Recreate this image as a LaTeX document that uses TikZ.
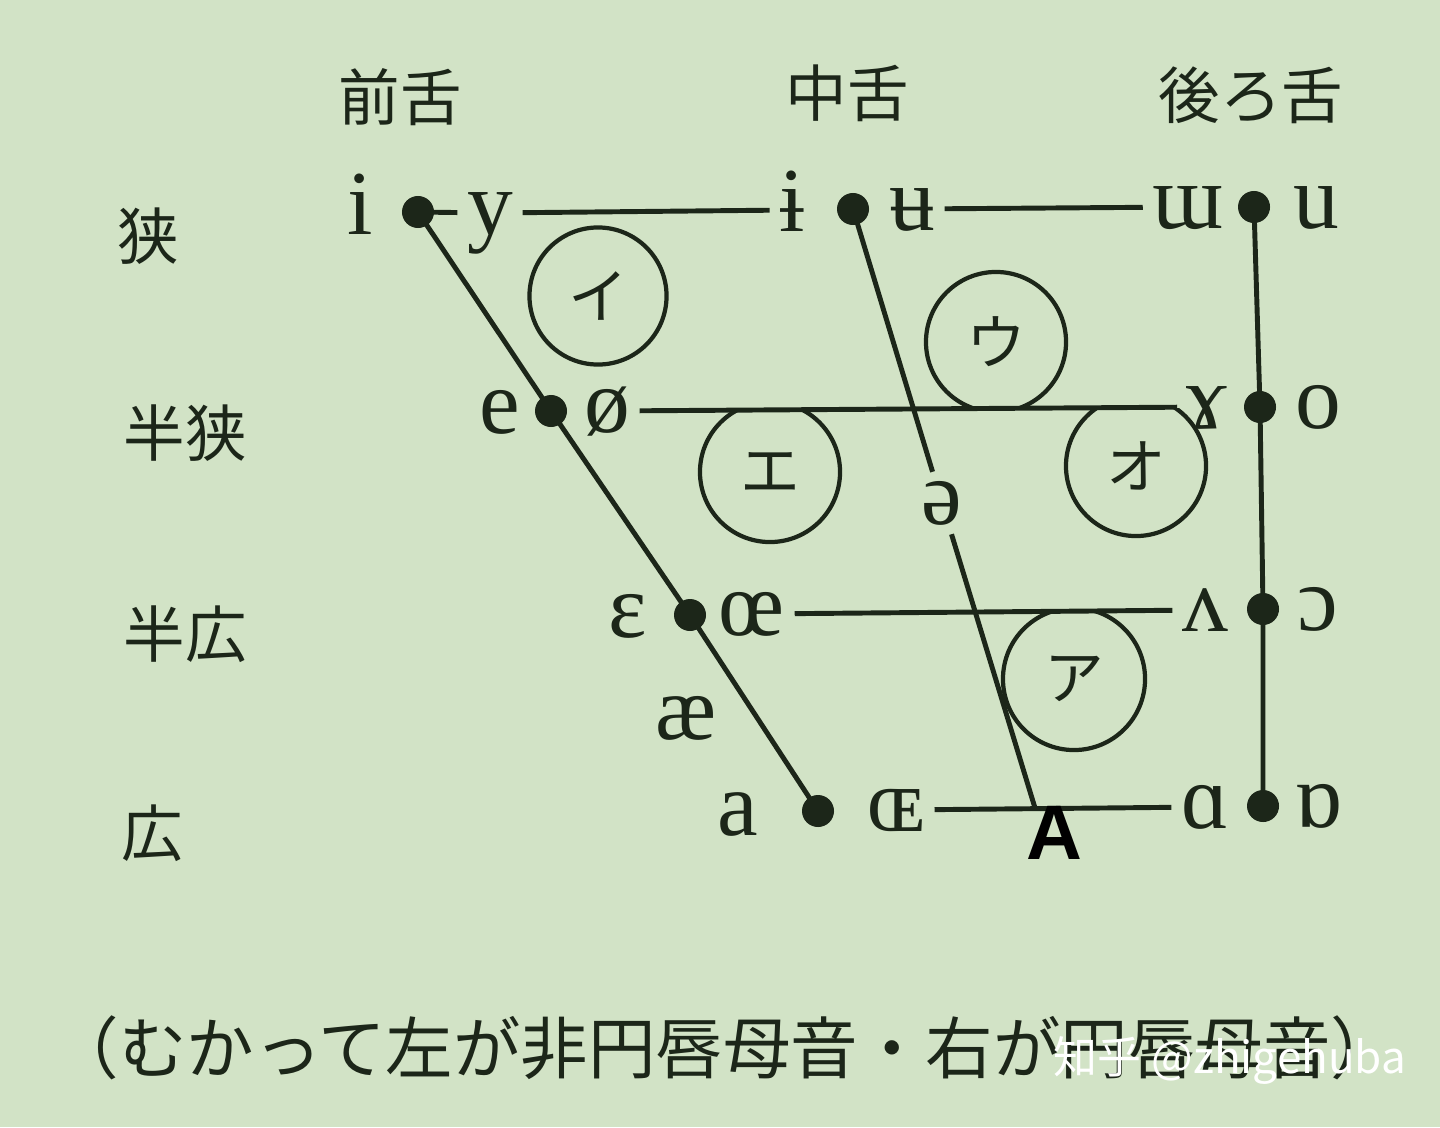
\documentclass[tikz,border=0pt]{standalone}
\usepackage{fontspec}
\setmainfont{Liberation Serif}
\newfontfamily\jpfont{Noto Sans CJK JP}
\newfontfamily\zhfont{Noto Sans CJK SC}
\newfontfamily\sansfont{Liberation Sans}
\definecolor{fondo}{HTML}{D2E3C6}
\definecolor{tinta}{HTML}{1C2619}

\begin{document}
\begin{tikzpicture}[x=0.01cm, y=-0.01cm,
    vocal/.style={font=\fontsize{26pt}{30pt}\selectfont, text=tinta, text height=0.43cm, text depth=0cm, inner sep=0.09cm},
    punto/.style={circle, fill=tinta, inner sep=0pt, minimum size=0.32cm},
    linea/.style={draw=tinta, line width=1.4pt},
    etiqueta/.style={font=\jpfont\fontsize{17.5pt}{20pt}\selectfont, text=tinta, inner sep=0pt},
    anillo/.style={circle, draw=tinta, line width=1.2pt, minimum size=1.40cm, inner sep=0pt, font=\jpfont\fontsize{17pt}{20pt}\selectfont, text=tinta}]

    % Fondo
    \useasboundingbox (0,0) rectangle (1440,1127);
    \fill[fondo] (0,0) rectangle (1440,1127);

    % Encabezados de columnas y filas
    \node[etiqueta] (ant) at (400,97) {前舌};
    \node[etiqueta] (cen) at (847,93) {中舌};
    \node[etiqueta] (post) at (1251,95) {後ろ舌};
    \node[etiqueta] (cerr) at (148,236) {狭};
    \node[etiqueta] (semicerr) at (185,433) {半狭};
    \node[etiqueta] (semiab) at (185,634) {半広};
    \node[etiqueta] (ab) at (152,833) {広};

    % Fila 1: cerradas
    \node[vocal] (i) at (360,213) {i};
    \node[punto] (d1) at (418,212) {};
    \node[vocal] (y) at (490,213) {y};
    \node[vocal] (ib) at (792,210) {ɨ};
    \node[punto] (d2) at (853,209) {};
    \node[vocal] (ub) at (912,209) {ʉ};
    \node[vocal] (ww) at (1188,207) {ɯ};
    \node[punto] (d3) at (1254,207) {};
    \node[vocal] (u) at (1316,207) {u};

    % Fila 2: semicerradas
    \node[vocal] (e) at (500,412) {e};
    \node[punto] (d4) at (551,411) {};
    \node[vocal] (oe) at (607,411) {ø};
    \node[vocal] (gam) at (1207,407) {ɤ};
    \node[punto] (d5) at (1260,407) {};
    \node[vocal] (o) at (1318,407) {o};

    % Fila 3: semiabiertas
    \node[vocal] (eps) at (628,616) {ɛ};
    \node[punto] (d6) at (690,615) {};
    \node[vocal] (oelig) at (752,614) {œ};
    \node[vocal] (vv) at (1205,610) {ʌ};
    \node[punto] (d7) at (1263,609) {};
    \node[vocal] (oo) at (1318,609) {ɔ};

    % Fila 4: abiertas
    \node[vocal] (ae) at (686,718) {æ};
    \node[vocal] (a) at (738,814) {a};
    \node[punto] (d8) at (818,811) {};
    \node[vocal] (OE) at (896,810) {ɶ};
    \node[vocal] (alfa) at (1205,807) {ɑ};
    \node[punto] (d9) at (1263,806) {};
    \node[vocal] (alfav) at (1318,806) {ɒ};
    \node[vocal] (schwa) at (942,503) {ə};
    \coordinate (Afin) at (1035,808);

    % Lineas horizontales
    \draw[linea] (d1.center) -- (y);
    \draw[linea] (y) -- (ib);
    \draw[linea] (ub) -- (ww);
    \draw[linea] (oe) -- (gam);
    \draw[linea] (oelig) -- (vv);
    \draw[linea] (OE) -- (alfa);

    % Lineas anterior, central y posterior
    \draw[linea] (d1.center) -- (d4.center) -- (d6.center) -- (d8.center);
    \draw[linea] (d2.center) -- (schwa) -- (Afin);
    \draw[linea] (d3.center) -- (d5.center) -- (d7.center) -- (d9.center);

    % Circulos de las vocales japonesas
    \node[anillo, minimum size=1.37cm] (vi) at (598,296) {イ};
    \begin{scope}
        \clip (0,0) rectangle (1440,408);
        \node[anillo] (vu) at (996,342) {ウ};
    \end{scope}
    \begin{scope}
        \clip (0,410) rectangle (1440,1127);
        \node[anillo] (ve) at (770,472) {エ};
    \end{scope}
    \begin{scope}
        \clip (0,408) rectangle (1440,1127);
        \node[anillo] (vo) at (1136,466) {オ};
    \end{scope}
    \begin{scope}
        \clip (0,611) rectangle (1440,1127);
        \node[anillo, minimum size=1.42cm] (va) at (1074,679) {ア};
    \end{scope}

    % Letra A
    \node[font=\sansfont\bfseries\fontsize{22pt}{24pt}\selectfont, text=black, inner sep=0pt] (A) at (1054,833) {A};

    % Nota inferior
    \node[font=\jpfont\fontsize{19.2pt}{22pt}\selectfont, text=tinta, inner sep=0pt] (nota) at (725,1048) {（むかって左が非円唇母音・右が円唇母音）};
    \node[font=\zhfont\fontsize{12.5pt}{15pt}\selectfont, text=white, inner sep=0pt] (marca) at (1230,1060) {知乎 @zhigehuba};
\end{tikzpicture}
\end{document}
